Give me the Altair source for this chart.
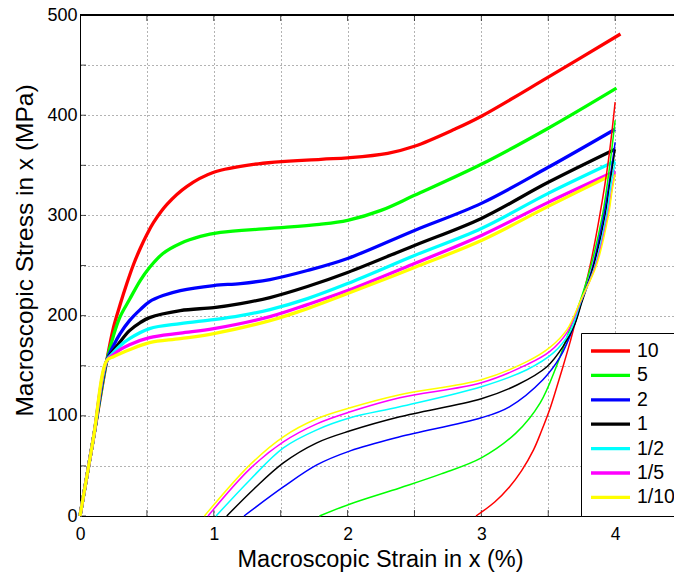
import altair as alt
import pandas as pd

SERIES = ["10", "5", "2", "1", "1/2", "1/5", "1/10"]
COLORS = ["#FF0000", "#00FF00", "#0000FF", "#000000", "#00FFFF", "#FF00FF", "#FFFF00"]

# loading curves (thick)
LOAD_X = {
    "10":   [0, 0.1, 0.2, 0.25, 0.3, 0.35, 0.4, 0.45, 0.5, 0.55, 0.65, 0.8, 1.0, 1.3, 1.8, 2.0, 2.3, 2.5, 2.8, 3.0, 3.5, 4.04],
    "5":    [0, 0.1, 0.2, 0.25, 0.3, 0.37, 0.45, 0.52, 0.62, 0.75, 0.9, 1.05, 1.42, 1.79, 2.0, 2.25, 2.5, 3.0, 3.5, 4.01],
    "2":    [0, 0.1, 0.2, 0.25, 0.3, 0.37, 0.45, 0.52, 0.62, 0.75, 1.0, 1.2, 1.42, 1.7, 2.0, 2.5, 3.0, 3.5, 4.0],
    "1":    [0, 0.1, 0.2, 0.25, 0.3, 0.37, 0.45, 0.52, 0.75, 1.0, 1.2, 1.42, 1.7, 2.0, 2.5, 3.0, 3.5, 4.0],
    "1/2":  [0, 0.1, 0.2, 0.25, 0.3, 0.37, 0.52, 0.75, 1.0, 1.2, 1.42, 1.7, 2.0, 2.5, 3.0, 3.5, 4.0],
    "1/5":  [0, 0.1, 0.2, 0.25, 0.3, 0.37, 0.52, 0.75, 1.0, 1.42, 1.7, 2.0, 2.5, 3.0, 3.5, 4.0],
    "1/10": [0, 0.1, 0.2, 0.25, 0.3, 0.37, 0.52, 0.75, 1.0, 1.42, 1.7, 2.0, 2.5, 3.0, 3.5, 4.0],
}
LOAD_Y = {
    "10":   [0, 77.5, 155, 188, 211, 232, 251, 267, 281, 293, 311, 329, 343, 351, 356, 357.5, 362, 369, 386, 399, 438, 481],
    "5":    [0, 77.5, 155, 180, 199, 216, 235, 248, 262, 272, 279, 283, 287, 291, 295, 305, 320, 351, 387, 427],
    "2":    [0, 77.5, 155, 170, 182, 195, 206, 214, 220, 225, 230, 232, 236, 245, 257, 285, 312, 348, 386],
    "1":    [0, 77.5, 155, 165, 174, 185, 193, 198, 205, 208, 212, 218, 229, 243, 270, 297, 333, 366],
    "1/2":  [0, 77.5, 155, 163, 170, 177, 187, 192, 196, 200, 206, 217, 232, 260, 287, 322, 354],
    "1/5":  [0, 77.5, 155, 161, 166, 171, 178, 182.5, 187, 199, 211, 225, 252, 280, 313, 344],
    "1/10": [0, 77.5, 155, 159, 162, 166, 173, 177, 182, 195, 207, 222, 248, 275, 309, 342],
}

# second set of curves (thin)
THIN_X = {
    "10":   [2.96, 3.1, 3.21, 3.3, 3.39, 3.45, 3.51, 3.56, 3.61, 3.66, 3.70, 3.745, 3.81, 3.885, 3.95, 4.0],
    "5":    [1.79, 2.02, 2.39, 2.7, 3.0, 3.26, 3.44, 3.56, 3.66, 3.745, 3.82, 3.905, 3.96, 4.0],
    "2":    [1.226, 1.52, 1.77, 2.02, 2.39, 3.0, 3.21, 3.46, 3.59, 3.69, 3.745, 3.83, 3.915, 3.97, 4.0],
    "1":    [1.097, 1.3, 1.52, 1.77, 2.02, 2.39, 3.0, 3.27, 3.49, 3.61, 3.70, 3.75, 3.84, 3.925, 3.975, 4.0],
    "1/2":  [1.017, 1.27, 1.52, 1.77, 2.02, 2.39, 3.0, 3.34, 3.54, 3.66, 3.745, 3.85, 3.935, 3.97, 4.0],
    "1/5":  [0.957, 1.27, 1.52, 1.77, 2.02, 2.39, 3.0, 3.34, 3.51, 3.64, 3.745, 3.855, 3.945, 3.978, 4.0],
    "1/10": [0.93, 1.27, 1.52, 1.77, 2.02, 2.39, 3.0, 3.34, 3.51, 3.64, 3.745, 3.86, 3.95, 3.98, 4.0],
}
THIN_Y = {
    "10":   [0, 14, 29, 45, 66, 85, 106, 127, 149, 172, 192, 213, 248, 300, 355, 413],
    "5":    [0, 12, 28, 42, 58, 83, 113, 149, 186, 217, 250, 300, 350, 395],
    "2":    [0, 29, 51, 65, 79, 98, 109, 136, 159, 189, 212, 248, 300, 345, 373],
    "1":    [0, 27, 53, 73, 85, 99, 117, 131, 149, 169, 192, 213, 250, 300, 345, 366],
    "1/2":  [0, 36, 68, 86, 98, 109, 129, 146, 163, 183, 214, 250, 300, 332, 353],
    "1/5":  [0, 47, 74, 92, 104, 118, 133, 151, 164, 183, 215, 250, 300, 328, 343],
    "1/10": [0, 51, 79, 97, 108, 121, 136, 154, 168, 186, 216, 250, 300, 327, 341],
}

X_TICKS = [0, 0.5, 1, 1.5, 2, 2.5, 3, 3.5, 4]
Y_TICKS = [0, 50, 100, 150, 200, 250, 300, 350, 400, 450, 500]
X_DOMAIN = [0, 4.44]
Y_DOMAIN = [0, 500]

FONT = "Liberation Sans"

rows_load = []
for i, s in enumerate(SERIES):
    for j, (x, y) in enumerate(zip(LOAD_X[s], LOAD_Y[s])):
        rows_load.append({"x": x, "y": y, "series": s, "k": i, "p": j})
load_df = pd.DataFrame(rows_load)

rows_thin = []
for i, s in enumerate(SERIES):
    for j, (x, y) in enumerate(zip(THIN_X[s], THIN_Y[s])):
        rows_thin.append({"x": x, "y": y, "series": s, "k": i, "p": j})
thin_df = pd.DataFrame(rows_thin)

color_scale = alt.Scale(domain=SERIES, range=COLORS)
x_scale = alt.Scale(domain=X_DOMAIN, nice=False, zero=False)
y_scale = alt.Scale(domain=Y_DOMAIN, nice=False)

x_axis = alt.Axis(
    values=X_TICKS, labelExpr="datum.value % 1 == 0 ? format(datum.value, 'd') : ''",
    grid=True, gridDash=[1, 3], gridColor="#666666", gridWidth=1,
    ticks=False, tickSize=0, domainColor="black", domainWidth=1,
    labelFont=FONT, labelFontSize=17.5, labelColor="black", labelBaseline="alphabetic",
    labelPadding=23, labelFlush=False,
    title="Macroscopic Strain in x (%)", titleFont=FONT, titleFontSize=23.5,
    titleFontWeight="normal", titleColor="black", titleBaseline="alphabetic",
    titleX=300, titleY=50,
)
y_axis = alt.Axis(
    values=Y_TICKS, labelExpr="datum.value % 100 == 0 ? format(datum.value, 'd') : ''",
    grid=True, gridDash=[1, 3], gridColor="#666666", gridWidth=1,
    ticks=False, tickSize=0, domainColor="black", domainWidth=1,
    labelFont=FONT, labelFontSize=18, labelColor="black", labelPadding=3,
    labelFlush=False,
    title="Macroscopic Stress in x (MPa)", titleFont=FONT, titleFontSize=24.5,
    titleFontWeight="normal", titleColor="black", titleBaseline="alphabetic",
    titleX=-48, titleY=235,
)

thick = alt.Chart(load_df).mark_line(strokeWidth=3.3, interpolate="catmull-rom").encode(
    x=alt.X("x:Q", scale=x_scale, axis=x_axis),
    y=alt.Y("y:Q", scale=y_scale, axis=y_axis),
    color=alt.Color("series:N", scale=color_scale, sort=SERIES, legend=alt.Legend(
        title=None, orient="none", legendX=501, legendY=318,
        symbolType="stroke", symbolSize=1521, symbolStrokeWidth=3.3,
        clipHeight=20, rowPadding=4.4, padding=8,
        labelFont=FONT, labelFontSize=19.5, labelColor="black", labelOffset=5,
        strokeColor="black", fillColor="white", symbolOpacity=1,
    )),
    order=alt.Order("p:Q"),
)

thin = alt.Chart(thin_df).mark_line(strokeWidth=1.5, interpolate="catmull-rom").encode(
    x=alt.X("x:Q", scale=x_scale),
    y=alt.Y("y:Q", scale=y_scale),
    color=alt.Color("series:N", scale=color_scale, sort=SERIES, legend=None),
    order=alt.Order("p:Q"),
)

xt_df = pd.DataFrame({"x": X_TICKS})
yt_df = pd.DataFrame({"y": Y_TICKS})
ticks_bottom = alt.Chart(xt_df).mark_tick(orient="vertical", size=12, thickness=1, color="black", clip=True).encode(
    x=alt.X("x:Q", scale=x_scale), y=alt.value(501))
ticks_top = alt.Chart(xt_df).mark_tick(orient="vertical", size=12, thickness=1, color="black", clip=True).encode(
    x=alt.X("x:Q", scale=x_scale), y=alt.value(0))
ticks_left = alt.Chart(yt_df).mark_tick(orient="horizontal", size=12, thickness=1, color="black", clip=True).encode(
    y=alt.Y("y:Q", scale=y_scale), x=alt.value(0))
top_border = alt.Chart(xt_df).mark_rule(color="black", strokeWidth=1).encode(y=alt.value(0))

chart = alt.layer(ticks_bottom, ticks_top, ticks_left, top_border, thick, thin).properties(
    width=594, height=501,
    autosize=alt.AutoSizeParams(type="none"),
    padding={"left": 80, "top": 15, "right": 0, "bottom": 58},
    background="white",
).configure_view(stroke=None)

chart.save("out.html", embed_options={"renderer": "svg", "actions": False})
